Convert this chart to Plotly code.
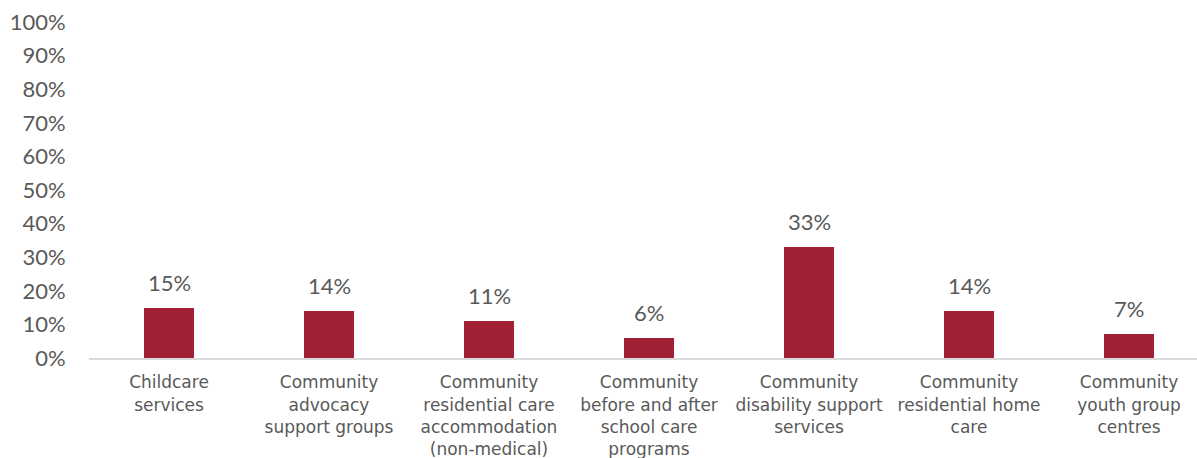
import plotly.graph_objects as go

categories = [
    "Childcare<br>services",
    "Community<br>advocacy<br>support groups",
    "Community<br>residential care<br>accommodation<br>(non-medical)",
    "Community<br>before and after<br>school care<br>programs",
    "Community<br>disability support<br>services",
    "Community<br>residential home<br>care",
    "Community<br>youth group<br>centres",
]
values = [15, 14, 11, 6, 33, 14, 7]
y_ticks = [0, 10, 20, 30, 40, 50, 60, 70, 80, 90, 100]
y_tick_labels = [f"{v}%" for v in y_ticks]

NUM_FONT = "Lato, 'Open Sans', sans-serif"
CAT_FONT = "'DejaVu Sans', sans-serif"
TEXT = "#595959"
BAR = "#A02035"

x_pos = list(range(len(categories)))

fig = go.Figure()
fig.add_trace(go.Bar(
    x=x_pos,
    y=values,
    width=0.31,
    marker=dict(color=BAR, line=dict(width=0)),
    hoverinfo="skip",
))

for xi, v in zip(x_pos, values):
    fig.add_annotation(
        x=xi, y=v, text=f"{v}%", showarrow=False,
        yanchor="bottom", yshift=10,
        font=dict(family=NUM_FONT, size=22, color=TEXT),
    )

fig.update_layout(
    width=1197, height=458,
    margin=dict(l=89, r=0, t=22, b=100),
    plot_bgcolor="white", paper_bgcolor="white",
    showlegend=False,
    bargap=0,
    font=dict(family=NUM_FONT, color=TEXT),
)
fig.update_xaxes(
    range=[-0.5, 6.425],
    tickmode="array", tickvals=x_pos, ticktext=categories,
    tickfont=dict(family=CAT_FONT, size=17, color=TEXT),
    showline=True, linecolor="#D9D9D9", linewidth=2,
    ticks="outside", ticklen=8, tickcolor="rgba(0,0,0,0)",
    showgrid=False, zeroline=False,
)
fig.update_yaxes(
    range=[0, 100],
    tickmode="array", tickvals=y_ticks, ticktext=y_tick_labels,
    tickfont=dict(family=NUM_FONT, size=22, color=TEXT),
    ticks="outside", ticklen=18, tickcolor="rgba(0,0,0,0)",
    showgrid=False, zeroline=False, showline=False,
)

fig.write_html("out.html")
